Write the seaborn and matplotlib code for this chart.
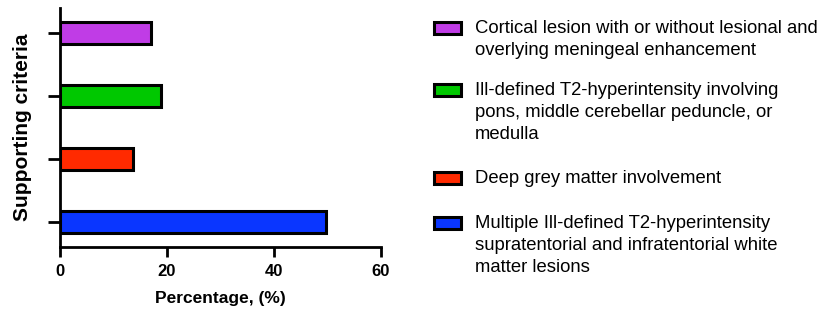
import pandas as pd
import seaborn as sns
import matplotlib.pyplot as plt
from matplotlib.patches import Rectangle

criteria = [
    "Cortical lesion with or without lesional and\noverlying meningeal enhancement",
    "Ill-defined T2-hyperintensity involving\npons, middle cerebellar peduncle, or\nmedulla",
    "Deep grey matter involvement",
    "Multiple Ill-defined T2-hyperintensity\nsupratentorial and infratentorial white\nmatter lesions",
]
percentage = [17.0, 18.9, 13.6, 49.8]
colors = ["#C03CE6", "#00C800", "#FF2A00", "#0A36FF"]

df = pd.DataFrame({"criteria": criteria, "percentage": percentage})

sns.set_style("ticks", {"axes.edgecolor": "black", "text.color": "black",
                        "axes.labelcolor": "black", "xtick.color": "black",
                        "ytick.color": "black"})
plt.rcParams["font.family"] = ["Liberation Sans", "DejaVu Sans"]

W, H = 829, 309
fig = plt.figure(figsize=(W / 100, H / 100), dpi=100)
ax = fig.add_axes([60 / W, 1 - 247 / H, 321 / W, 239 / H])

sns.barplot(data=df, y="criteria", x="percentage", hue="criteria",
            palette=colors, saturation=1, orient="h", width=0.35,
            edgecolor="black", linewidth=2.2, legend=False, ax=ax)

ax.set_xlim(0, 60)
ax.set_xticks([0, 20, 40, 60])
ax.set_ylim(3.4, -0.4)
ax.set_yticklabels([])
ax.set_xlabel("Percentage, (%)", fontsize=12.5, fontweight="bold", labelpad=9)
ax.set_ylabel("Supporting criteria", fontsize=15, fontweight="bold", labelpad=8)
for lab in ax.get_xticklabels():
    lab.set_fontweight("bold")
ax.tick_params(axis="x", labelsize=12, width=2, length=7, pad=5)
ax.tick_params(axis="y", width=2, length=9)
for s in ["left", "bottom"]:
    ax.spines[s].set_linewidth(2)
sns.despine(ax=ax)

# legend, handle aligned with first line of each label
first_baseline = [33, 95, 183, 228]
line_gap = 22
for lab, col, yb in zip(criteria, colors, first_baseline):
    fig.patches.append(Rectangle((434 / W, 1 - (yb + 1) / H), 27 / W, 12 / H,
                                 transform=fig.transFigure, facecolor=col,
                                 edgecolor="black", linewidth=2.2))
    for i, line in enumerate(lab.split("\n")):
        fig.text(475 / W, 1 - (yb + i * line_gap) / H, line, fontsize=13.3,
                 va="baseline", ha="left")

fig.savefig("out.png", dpi=100)
